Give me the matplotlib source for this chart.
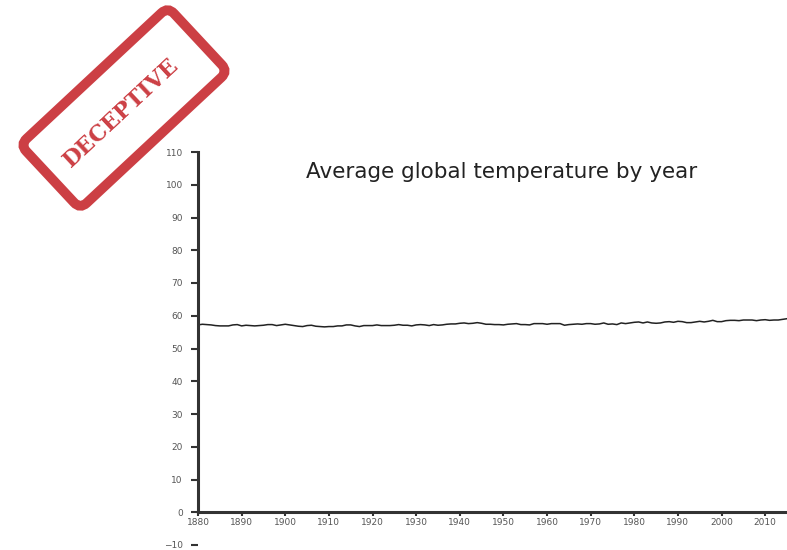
import numpy as np
import matplotlib.pyplot as plt
from matplotlib.patches import FancyBboxPatch
from matplotlib.transforms import Affine2D

# years and average global temperature (deg F)
years = np.arange(1880, 2016)
temps = [57.2, 57.4, 57.3, 57.2, 57.0, 56.9, 56.9, 56.9, 57.2, 57.3,
         56.9, 57.1, 57.0, 56.9, 57.0, 57.1, 57.3, 57.3, 57.0, 57.2,
         57.4, 57.2, 57.0, 56.8, 56.7, 57.0, 57.1, 56.8, 56.7, 56.6,
         56.7, 56.7, 56.9, 56.9, 57.2, 57.2, 56.9, 56.7, 57.0, 57.0,
         57.0, 57.2, 57.0, 57.0, 57.0, 57.1, 57.3, 57.1, 57.1, 56.9,
         57.2, 57.3, 57.2, 57.0, 57.3, 57.1, 57.2, 57.4, 57.5, 57.5,
         57.7, 57.8, 57.6, 57.7, 57.9, 57.7, 57.4, 57.4, 57.3, 57.3,
         57.2, 57.4, 57.5, 57.6, 57.3, 57.3, 57.2, 57.6, 57.6, 57.6,
         57.4, 57.6, 57.6, 57.6, 57.1, 57.3, 57.4, 57.5, 57.4, 57.6,
         57.6, 57.4, 57.5, 57.8, 57.4, 57.5, 57.3, 57.8, 57.6, 57.8,
         58.0, 58.1, 57.8, 58.1, 57.8, 57.7, 57.8, 58.1, 58.2, 58.0,
         58.3, 58.2, 57.9, 57.9, 58.1, 58.3, 58.1, 58.3, 58.6, 58.2,
         58.2, 58.5, 58.6, 58.6, 58.5, 58.7, 58.7, 58.7, 58.5, 58.7,
         58.8, 58.6, 58.7, 58.7, 58.9, 59.1]
xticks = list(range(1880, 2011, 10))
yticks = list(range(-10, 111, 10))
title = "Average global temperature by year"
stamp = "DECEPTIVE"

fig = plt.figure(figsize=(7.87, 5.5), dpi=100)
ax = fig.add_axes([198/787, 5/550, 1 - 198/787, (545 - 152)/550])

ax.plot(years, temps, color="#222222", lw=1.1)
ax.set_xlim(1880, 2015)
ax.set_ylim(-10, 110)

ax.spines['top'].set_visible(False)
ax.spines['right'].set_visible(False)
ax.spines['bottom'].set_position(('data', 0))
ax.spines['left'].set_bounds(0, 110)
for s in ['left', 'bottom']:
    ax.spines[s].set_linewidth(2.2)
    ax.spines[s].set_color("#333333")

ax.set_xticks(xticks)
ax.set_xticklabels([str(y) for y in xticks])
ax.set_yticks(yticks)
ax.tick_params(axis='both', labelsize=6.5, labelcolor="#555555", color="#333333",
               width=1.5, length=5, direction='out')
ax.tick_params(axis='y', pad=6)
ax.tick_params(axis='x', length=3, pad=1)

ax.text(0.516, 0.949, title, transform=ax.transAxes, ha='center', va='center',
        fontsize=15.5, color="#222222")

# the red stamp in the top left corner
ov = fig.add_axes([0, 0, 1, 1], zorder=5)
ov.set_xlim(0, 787)
ov.set_ylim(0, 550)
ov.axis('off')
ov.patch.set_alpha(0)
red = "#cc3f44"
tr = Affine2D().rotate_deg(43).translate(124, 442) + ov.transData
box = FancyBboxPatch((-101, -44), 202, 88, boxstyle="round,pad=0,rounding_size=9",
                     fc='none', ec=red, lw=7, transform=tr)
ov.add_patch(box)
ov.text(121, 437, stamp, rotation=43, ha='center', va='center', color=red,
        fontsize=16, fontweight='bold', family='DejaVu Serif',
        rotation_mode='anchor')

fig.savefig("out.png", dpi=100)
